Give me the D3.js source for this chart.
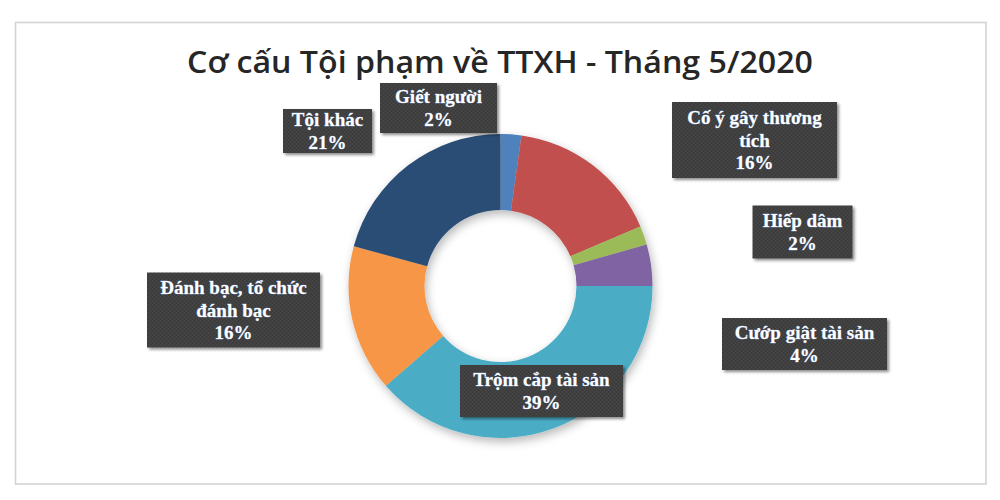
<!DOCTYPE html>
<html><head><meta charset="utf-8">
<script src="https://cdn.jsdelivr.net/npm/d3@7"></script>
<style>body{margin:0;background:#fff}</style>
</head><body>
<svg id="c" width="1000" height="500"></svg>
<script>
const categories = ["Giết người","Cố ý gây thương tích","Hiếp dâm","Cướp giật tài sản","Trộm cắp tài sản","Đánh bạc, tổ chức đánh bạc","Tội khác"];
const values = [2.2, 16.4, 2.0, 4.4, 38.6, 15.6, 20.8];
const colors = ["#4F81BD","#C0504D","#9BBB59","#8064A2","#4BACC6","#F79646","#2C4D75"];
const labelLines = [["Giết người"],["Cố ý gây thương","tích"],["Hiếp dâm"],["Cướp giật tài sản"],["Trộm cắp tài sản"],["Đánh bạc, tổ chức","đánh bạc"],["Tội khác"]];
const title = "Cơ cấu Tội phạm về TTXH - Tháng 5/2020";

// layout (label box centres relative to donut centre, box sizes)
const cx = 500.5, cy = 286, rOuter = 152, rInner = 76;
const labelBoxes = [
  {dx:-62, dy:-178, w:117, h:50},
  {dx:254, dy:-146, w:165, h:76},
  {dx:302, dy:-54, w:100, h:53},
  {dx:304, dy:58, w:165, h:52},
  {dx:41, dy:105, w:163, h:52},
  {dx:-267, dy:24, w:173, h:75},
  {dx:-173, dy:-155, w:89, h:44}
];

const svg = d3.select("#c");
const defs = svg.append("defs");
const f = defs.append("filter").attr("id","sh").attr("x","-20%").attr("y","-20%").attr("width","140%").attr("height","140%");
f.append("feDropShadow").attr("dx",2).attr("dy",4).attr("stdDeviation",5).attr("flood-color","#000").attr("flood-opacity",0.28);
const f2 = defs.append("filter").attr("id","bs").attr("x","-20%").attr("y","-20%").attr("width","140%").attr("height","140%");
f2.append("feDropShadow").attr("dx",2).attr("dy",2).attr("stdDeviation",1.5).attr("flood-color","#000").attr("flood-opacity",0.45);
const pat = defs.append("pattern").attr("id","tex").attr("width",4).attr("height",4).attr("patternUnits","userSpaceOnUse");
pat.append("rect").attr("width",4).attr("height",4).attr("fill","#3a3a3a");
pat.append("rect").attr("width",2).attr("height",2).attr("fill","#454545");
pat.append("rect").attr("x",2).attr("y",2).attr("width",2).attr("height",2).attr("fill","#454545");

// frame
svg.append("rect").attr("x",15.5).attr("y",22.5).attr("width",970.5).attr("height",461.5)
  .attr("fill","#fff").attr("stroke","#d4d4d4").attr("stroke-width",1.6);

svg.append("text").attr("x",500).attr("y",73).attr("text-anchor","middle")
  .attr("font-family","'Open Sans', sans-serif").attr("font-weight",600).attr("font-size",30)
  .attr("fill","#262626").attr("textLength",626).attr("lengthAdjust","spacingAndGlyphs").text(title);

const data = categories.map((c,i)=>({c, v:values[i], i}));
const pie = d3.pie().value(d=>d.v).sort(null).startAngle(0).endAngle(2*Math.PI);
const arc = d3.arc().innerRadius(rInner).outerRadius(rOuter);
const g = svg.append("g").attr("transform",`translate(${cx},${cy})`);
const arcs = pie(data);
g.append("g").attr("filter","url(#sh)").selectAll("path").data(arcs).join("path")
  .attr("d",arc).attr("fill",d=>colors[d.data.i]);

const total = d3.sum(values);
const fmt = d3.format(".0%");
const lg = g.selectAll("g.lab").data(arcs).join("g").attr("class","lab")
  .attr("transform",d=>`translate(${labelBoxes[d.data.i].dx},${labelBoxes[d.data.i].dy})`);
lg.append("rect")
  .attr("x",d=>-labelBoxes[d.data.i].w/2).attr("y",d=>-labelBoxes[d.data.i].h/2)
  .attr("width",d=>labelBoxes[d.data.i].w).attr("height",d=>labelBoxes[d.data.i].h)
  .attr("fill","url(#tex)").attr("filter","url(#bs)");
lg.each(function(d){
  const lines = labelLines[d.data.i].concat([fmt(d.data.v/total)]);
  const lh = 22.5;
  const t = d3.select(this).append("text").attr("text-anchor","middle")
    .attr("font-family","'Liberation Serif', 'Times New Roman', serif").attr("font-weight","bold")
    .attr("font-size",19).attr("fill","#fff")
    .attr("stroke","#9ec3ff").attr("stroke-width",0.4).attr("paint-order","stroke");
  lines.forEach((l,k)=>{
    t.append("tspan").attr("x",0).attr("y",(k-(lines.length-1)/2)*lh+6.5).text(l);
  });
});
</script>
</body></html>
